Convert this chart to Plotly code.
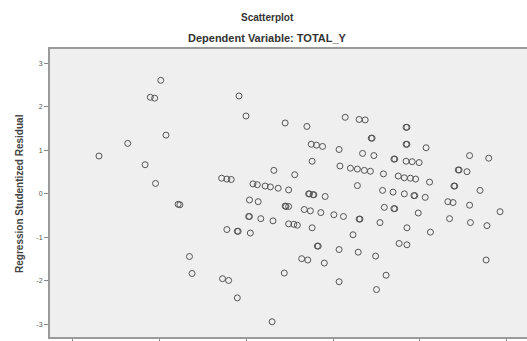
import plotly.graph_objects as go

# Regression Standardized Predicted Value (x) vs Studentized Residual (y)
pred_value = [
    -2.69, -2.36, -2.10, -2.05, -1.98, -1.92, -2.16, -2.04, -1.78, -1.76,
    -1.08, -1.00, -0.55, -0.68, -1.28, -1.22, -1.17, -0.92, -0.87, -0.78,
    -0.72, -0.63, -0.51, -0.96, -0.86, -0.55, -0.54, -0.51, -0.97, -0.96,
    -0.83, -0.69, -0.51, -0.45, -0.41, -1.22, -1.10, -1.09, -0.95, -1.65,
    -1.62, -1.27, -1.20, -1.10, -0.56, -0.70, -0.30, -0.25, -0.19, -0.12,
    -0.24, -0.44, -0.28, -0.27, -0.23, -0.22, -0.09, -0.33, -0.26, -0.14,
    0.14, 0.30, 0.37, 0.84, 0.85, 0.44, 0.45, 0.84, 0.85, 1.07,
    0.07, 0.34, 0.47, 0.70, 0.71, 0.84, 0.91, 0.99, 0.08, 0.20,
    0.28, 0.36, 0.43, 0.58, 0.75, 0.82, 0.89, 0.95, 1.11, 0.28,
    0.57, 0.69, 0.82, 0.93, 0.94, 1.06, 1.32, 1.38, 0.59, 0.70,
    0.71, 0.98, 0.01, 0.12, 0.30, 0.31, 1.57, 1.79, 1.44, 1.45,
    1.54, 1.39, 1.40, 1.69, 1.57, 1.92, 1.34, 1.58, 1.77, 1.76,
    0.54, -0.24, 0.23, 0.85, 1.12, -0.18, -0.17, 0.07, 0.29, 0.49,
    0.76, 0.85, -0.36, -0.29, -0.10, 0.61, 0.07, 0.50,
]
stud_residual = [
    0.87, 1.16, 2.22, 2.20, 2.61, 1.35, 0.67, 0.24, -0.24, -0.25,
    2.25, 1.79, 1.63, 0.54, 0.36, 0.34, 0.33, 0.23, 0.21, 0.18,
    0.16, 0.13, 0.09, -0.14, -0.18, -0.28, -0.29, -0.29, -0.52, -0.52,
    -0.57, -0.62, -0.69, -0.70, -0.72, -0.82, -0.86, -0.86, -0.90, -1.44,
    -1.83, -1.95, -1.99, -2.39, -1.82, -2.94, 1.55, 1.14, 1.12, 1.09,
    0.75, 0.44, 0.00, 0.00, -0.02, -0.02, -0.06, -0.36, -0.39, -0.43,
    1.76, 1.71, 1.70, 1.53, 1.53, 1.28, 1.28, 1.14, 1.14, 1.06,
    1.02, 0.93, 0.88, 0.80, 0.80, 0.75, 0.74, 0.72, 0.64, 0.59,
    0.57, 0.54, 0.52, 0.46, 0.41, 0.37, 0.36, 0.34, 0.27, 0.19,
    0.08, 0.04, 0.00, -0.04, -0.04, -0.08, -0.18, -0.20, -0.31, -0.34,
    -0.34, -0.44, -0.48, -0.52, -0.58, -0.58, 0.88, 0.82, 0.55, 0.55,
    0.51, 0.18, 0.18, 0.08, -0.26, -0.41, -0.57, -0.66, -0.73, -1.52,
    -0.66, -0.78, -0.94, -0.78, -0.88, -1.20, -1.20, -1.28, -1.34, -1.43,
    -1.14, -1.17, -1.49, -1.52, -1.59, -1.87, -2.02, -2.20,
]

y_ticks = [-3, -2, -1, 0, 1, 2, 3]
x_ticks = [-3, -2, -1, 0, 1, 2]

fig = go.Figure()
fig.add_trace(go.Scatter(
    x=pred_value, y=stud_residual, mode="markers",
    marker=dict(symbol="circle-open", size=6, color="#555555",
                line=dict(width=1, color="#555555")),
    showlegend=False, hoverinfo="x+y",
))

fig.update_layout(
    width=535, height=341,
    margin=dict(l=50, r=0, t=49, b=4),
    paper_bgcolor="white",
    plot_bgcolor="#efefef",
    font=dict(family="Liberation Sans, Arial, sans-serif", color="#333"),
    xaxis=dict(
        range=[-3.253, 2.322], tickvals=x_ticks, showticklabels=False,
        ticks="outside", ticklen=4, tickcolor="#888", tickwidth=1,
        showgrid=False, zeroline=False,
        showline=True, linecolor="#9a9a9a", linewidth=2, mirror=True,
        automargin=False,
    ),
    yaxis=dict(
        range=[-3.29, 3.33], tickvals=y_ticks, ticktext=[str(v) for v in y_ticks],
        ticks="outside", ticklen=4, tickcolor="#888", tickwidth=1,
        tickfont=dict(size=7, color="#555"),
        showgrid=False, zeroline=False,
        showline=True, linecolor="#9a9a9a", linewidth=2, mirror=False,
        automargin=False,
    ),
    annotations=[
        dict(text="<b>Scatterplot</b>", xref="paper", yref="paper",
             x=0.449, y=1.111, xanchor="center", yanchor="middle",
             showarrow=False, font=dict(size=10, color="#333")),
        dict(text="<b>Dependent Variable: TOTAL_Y</b>", xref="paper", yref="paper",
             x=0.449, y=1.038, xanchor="center", yanchor="middle",
             showarrow=False, font=dict(size=11, color="#333")),
        dict(text="<b>Regression Studentized Residual</b>", xref="paper", yref="paper",
             x=-0.064, y=0.5, xanchor="center", yanchor="middle", textangle=-90,
             showarrow=False, font=dict(size=10, color="#444")),
    ],
)

fig.write_html(
    "out.html",
    config={"displayModeBar": False},
    post_script="document.body.style.margin='0';document.body.style.overflow='hidden';",
)
